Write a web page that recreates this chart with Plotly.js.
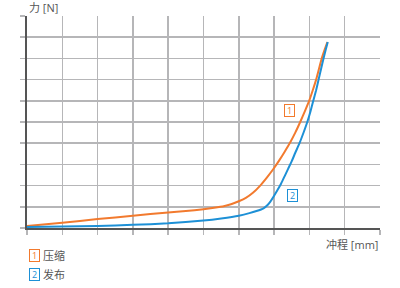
<!DOCTYPE html>
<html>
<head>
<meta charset="utf-8">
<script src="https://cdn.plot.ly/plotly-3.0.1.min.js"></script>
<style>html,body{margin:0;padding:0;background:#fff;}#chart{width:400px;height:288px;}</style>
</head>
<body>
<div id="chart"></div>
<script>
const compressX = [0, 1, 2, 3, 4, 4.5, 5, 5.3, 5.6, 5.8, 6.0, 6.2, 6.4, 6.6, 6.8, 7.0, 7.15, 7.3, 7.45, 7.6, 7.74, 7.87, 8.0, 8.1, 8.19, 8.27, 8.35, 8.43, 8.51];
const compressY = [0.1, 0.25, 0.42, 0.58, 0.73, 0.8, 0.88, 0.95, 1.04, 1.13, 1.26, 1.42, 1.66, 1.99, 2.39, 2.83, 3.2, 3.6, 4.02, 4.5, 5.0, 5.5, 6.03, 6.52, 7.0, 7.5, 8.0, 8.4, 8.77];
const releaseX = [0, 1, 2, 3, 4, 5, 5.5, 6, 6.3, 6.5, 6.7, 6.8, 6.9, 7.0, 7.1, 7.2, 7.3, 7.4, 7.5, 7.6, 7.72, 7.83, 7.94, 8.03, 8.11, 8.19, 8.26, 8.33, 8.4, 8.46, 8.52];
const releaseY = [0.05, 0.07, 0.1, 0.15, 0.22, 0.35, 0.45, 0.58, 0.7, 0.8, 0.93, 1.06, 1.26, 1.52, 1.8, 2.1, 2.45, 2.8, 3.15, 3.55, 4.0, 4.48, 5.0, 5.5, 6.0, 6.5, 7.0, 7.5, 8.0, 8.4, 8.77];
const seriesNames = ['压缩', '发布'];
const seriesTags = ['1', '2'];
const yTitle = '力 [N]';
const xTitle = '冲程 [mm]';

const ORANGE = '#f27a2e';
const BLUE = '#1d90d6';
const FONT = '"Open Sans", "Noto Sans CJK SC", sans-serif';

const traces = [
  {x: compressX, y: compressY, mode: 'lines', line: {color: ORANGE, width: 2, shape: 'spline', smoothing: 0.5}, name: seriesNames[0], hoverinfo: 'none'},
  {x: releaseX, y: releaseY, mode: 'lines', line: {color: BLUE, width: 2, shape: 'spline', smoothing: 0.5}, name: seriesNames[1], hoverinfo: 'none'}
];

function tagAnn(text, color, x, y, xref, yref) {
  return {text: text, x: x, y: y, xref: xref, yref: yref, showarrow: false,
    font: {family: FONT, size: 9, color: color}, bordercolor: color, borderwidth: 1, borderpad: 0,
    width: 9, height: 11, align: 'center', valign: 'middle',
    xanchor: 'center', yanchor: 'middle'};
}

const annotations = [
  {text: yTitle, xref: 'paper', yref: 'paper', x: 0.0, y: 1.04, xanchor: 'left', yanchor: 'middle', showarrow: false,
   font: {family: FONT, size: 11, color: '#555'}},
  {text: xTitle, xref: 'paper', yref: 'paper', x: 1.0, y: -0.077, xanchor: 'right', yanchor: 'middle', showarrow: false,
   font: {family: FONT, size: 11, color: '#555'}},
  tagAnn(seriesTags[0], ORANGE, 7.45, 5.55, 'x', 'y'),
  tagAnn(seriesTags[1], BLUE, 7.52, 1.54, 'x', 'y'),
  tagAnn(seriesTags[0], ORANGE, 0.021, -0.129, 'paper', 'paper'),
  tagAnn(seriesTags[1], BLUE, 0.021, -0.218, 'paper', 'paper'),
  {text: seriesNames[0], xref: 'paper', yref: 'paper', x: 0.041, y: -0.129, xanchor: 'left', yanchor: 'middle', showarrow: false,
   font: {family: FONT, size: 11, color: '#555'}},
  {text: seriesNames[1], xref: 'paper', yref: 'paper', x: 0.041, y: -0.218, xanchor: 'left', yanchor: 'middle', showarrow: false,
   font: {family: FONT, size: 11, color: '#555'}}
];

const layout = {
  width: 400, height: 288,
  margin: {l: 26.5, r: 20, t: 15.7, b: 60.3, pad: 0},
  paper_bgcolor: '#fff', plot_bgcolor: '#fff',
  showlegend: false,
  xaxis: {range: [0, 10], dtick: 1, tick0: 0, showgrid: true, gridcolor: '#b6b6b8', gridwidth: 1.5,
    zeroline: false, showline: true, linecolor: '#555', linewidth: 2, ticks: 'outside', ticklen: 5,
    tickcolor: '#b6b6b8', tickwidth: 1.5, showticklabels: false, fixedrange: true},
  yaxis: {range: [0, 10], dtick: 1, tick0: 0, showgrid: true, gridcolor: '#b6b6b8', gridwidth: 1.5,
    zeroline: false, showline: true, linecolor: '#555', linewidth: 2, ticks: 'outside', ticklen: 5,
    tickcolor: '#b6b6b8', tickwidth: 1.5, showticklabels: false, fixedrange: true},
  annotations: annotations,
  font: {family: FONT}
};

Plotly.newPlot('chart', traces, layout, {staticPlot: true, displayModeBar: false});
</script>
</body>
</html>
